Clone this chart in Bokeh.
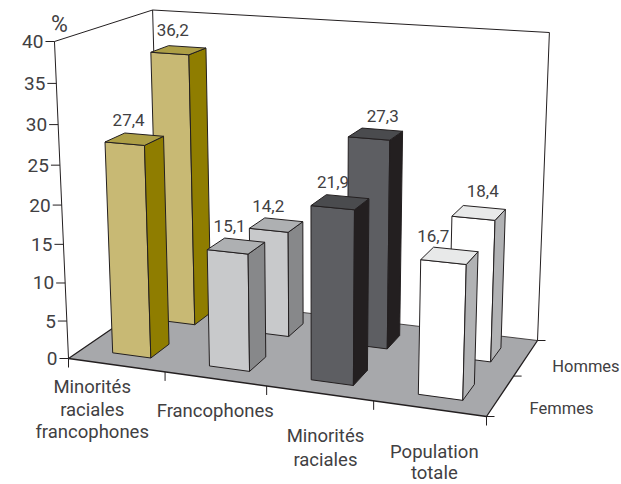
from bokeh.plotting import figure
from bokeh.models import Range1d
from bokeh.core.properties import value
from bokeh.embed import file_html
from bokeh.resources import INLINE

categories = ["Minorités raciales francophones", "Francophones", "Minorités raciales", "Population totale"]
series_names = ["Femmes", "Hommes"]
femmes = [27.4, 15.1, 21.9, 16.7]
hommes = [36.2, 14.2, 27.3, 18.4]
ticks = [0, 5, 10, 15, 20, 25, 30, 35, 40]
cat_lines = [["Minorités", "raciales", "francophones"], ["Francophones"], ["Minorités", "raciales"], ["Population", "totale"]]

# --- styles / projection set-up (page pixels)
FRONT = ["#c8b974", "#c8c9cb", "#5d5e62", "#ffffff"]
TOP = ["#ad9f46", "#aeb0b2", "#4a4b4e", "#e8e9e9"]
SIDE = ["#8f7d00", "#87888a", "#231f20", "#b1b2b4"]
FLOOR = "#a7a8ab"
INK = "#231f20"
TEXT = "#414042"
FONT = value("Roboto")
A, B, C, D = (68, 358), (486, 416), (537, 340), (160, 295)
VP = (318, 6007)
ZMAX = 40
BW, BD = 0.2, 0.2
UOFF, VOFF = 0.52, 0.48

dx1, dx2, sx = B[0]-C[0], D[0]-C[0], A[0]-B[0]+C[0]-D[0]
dy1, dy2, sy = B[1]-C[1], D[1]-C[1], A[1]-B[1]+C[1]-D[1]
den = dx1*dy2-dx2*dy1
g = (sx*dy2-dx2*sy)/den
h_ = (dx1*sy-sx*dy1)/den
a, b, c0 = B[0]-A[0]+g*B[0], D[0]-A[0]+h_*D[0], A[0]
d, e, f0 = B[1]-A[1]+g*B[1], D[1]-A[1]+h_*D[1], A[1]


def proj(u, v, z=0.0):
    s, t = u/len(categories), v/len(series_names)
    w = g*s+h_*t+1
    x = (a*s+b*t+c0)/w
    y = (d*s+e*t+f0)/w
    hh = z/ZMAX
    tt = hh/(hh+1.066*(1-hh)) if z > 0 else 0.0
    dy = (317+0.5*(y-358))*tt
    return x+(x-VP[0])*dy/(VP[1]-y), y-dy


p = figure(width=621, height=484, x_range=Range1d(0, 621), y_range=Range1d(484, 0),
           toolbar_location=None, output_backend="svg", min_border=0,
           outline_line_color=None, background_fill_color="white", border_fill_color="white")
p.xaxis.visible = False
p.yaxis.visible = False
p.grid.visible = False

nu, nv = len(categories), len(series_names)


def seg(pts, w=1.0, col=INK):
    p.line([q[0] for q in pts], [q[1] for q in pts], line_color=col, line_width=w)


# floor
fl = [proj(0, 0), proj(nu, 0), proj(nu, nv), proj(0, nv)]
p.patch([q[0] for q in fl], [q[1] for q in fl], fill_color=FLOOR, line_color=None)
# walls
seg([proj(0, 0), proj(0, 0, ZMAX), proj(0, nv, ZMAX), proj(0, nv)], 1.0)
seg([proj(0, nv, ZMAX), proj(nu, nv, ZMAX), proj(nu, nv)], 1.0)
seg([proj(0, nv), proj(nu, nv)], 0.8)
seg([proj(0, nv), proj(0, 0), proj(nu, 0), proj(nu, nv)], 1.3)
# value ticks + labels
tx, ty, tt_ = [], [], []
for z in ticks:
    q = proj(0, 0, z)
    seg([(q[0]-9, q[1]), q], 1.0)
    tx.append(q[0]-11)
    ty.append(q[1])
    tt_.append(str(z))
p.text(tx, ty, text=tt_, text_font=FONT, text_font_size="19px", text_color=TEXT,
       text_align="right", text_baseline="middle")
q = proj(0, 0, ZMAX)
p.text([q[0]+5], [q[1]-17], text=["%"], text_font=FONT, text_font_size="23px", text_color=TEXT,
       text_align="center", text_baseline="middle")
# category ticks
for i in range(nu+1):
    q = proj(i, 0)
    seg([q, (q[0], q[1]+9)], 1.0)
for j in range(nv+1):
    q = proj(nu, j)
    seg([q, (q[0]+8, q[1])], 1.0)

# bars, back row first
label_dx = {0: [-15.5, -15, -14.5, -22.5], 1: [-14.5, -15.5, 0.5, -1.5]}
label_dy = {0: [-15, -14, -15, -13], 1: [-17, -14, -14, -16]}
for j, vals in [(1, hommes), (0, femmes)]:
    for i, val in enumerate(vals):
        u0, u1 = i+UOFF-BW, i+UOFF+BW
        v0, v1 = j+VOFF-BD, j+VOFF+BD
        faces = [
            ([proj(u0, v0), proj(u1, v0), proj(u1, v0, val), proj(u0, v0, val)], FRONT[i]),
            ([proj(u1, v0), proj(u1, v1), proj(u1, v1, val), proj(u1, v0, val)], SIDE[i]),
            ([proj(u0, v0, val), proj(u1, v0, val), proj(u1, v1, val), proj(u0, v1, val)], TOP[i]),
        ]
        for pts, col in faces:
            p.patch([q[0] for q in pts], [q[1] for q in pts], fill_color=col,
                    line_color=INK, line_width=1.0, line_join="miter")
        q = proj(i+UOFF, j+VOFF+BD, val)
        p.text([q[0]+label_dx[j][i]], [q[1]+label_dy[j][i]], text=[f"{val:.1f}".replace(".", ",")],
               text_font=FONT, text_font_size="17px", text_color=TEXT,
               text_align="center", text_baseline="middle")

# category labels
cat_pos = [(-24, 22), (0, 32), (6, 43), (5, 43)]
cat_gap = [22.5, 0, 24, 21]
for i, lines in enumerate(cat_lines):
    q = proj(i+0.5, 0)
    for k, line in enumerate(lines):
        p.text([q[0]+cat_pos[i][0]], [q[1]+cat_pos[i][1]+k*cat_gap[i]], text=[line], text_font=FONT,
               text_font_size="18.5px", text_color=TEXT, text_align="center", text_baseline="middle")

# series labels
ser_pos = [(61, 13), (60, 9)]
for j, name in enumerate(series_names):
    q = proj(nu, j+0.5)
    p.text([q[0]+ser_pos[j][0]], [q[1]+ser_pos[j][1]], text=[name], text_font=FONT,
           text_font_size="16.5px", text_color=TEXT, text_align="center", text_baseline="middle")

open("out.html", "w").write(file_html(p, INLINE))
